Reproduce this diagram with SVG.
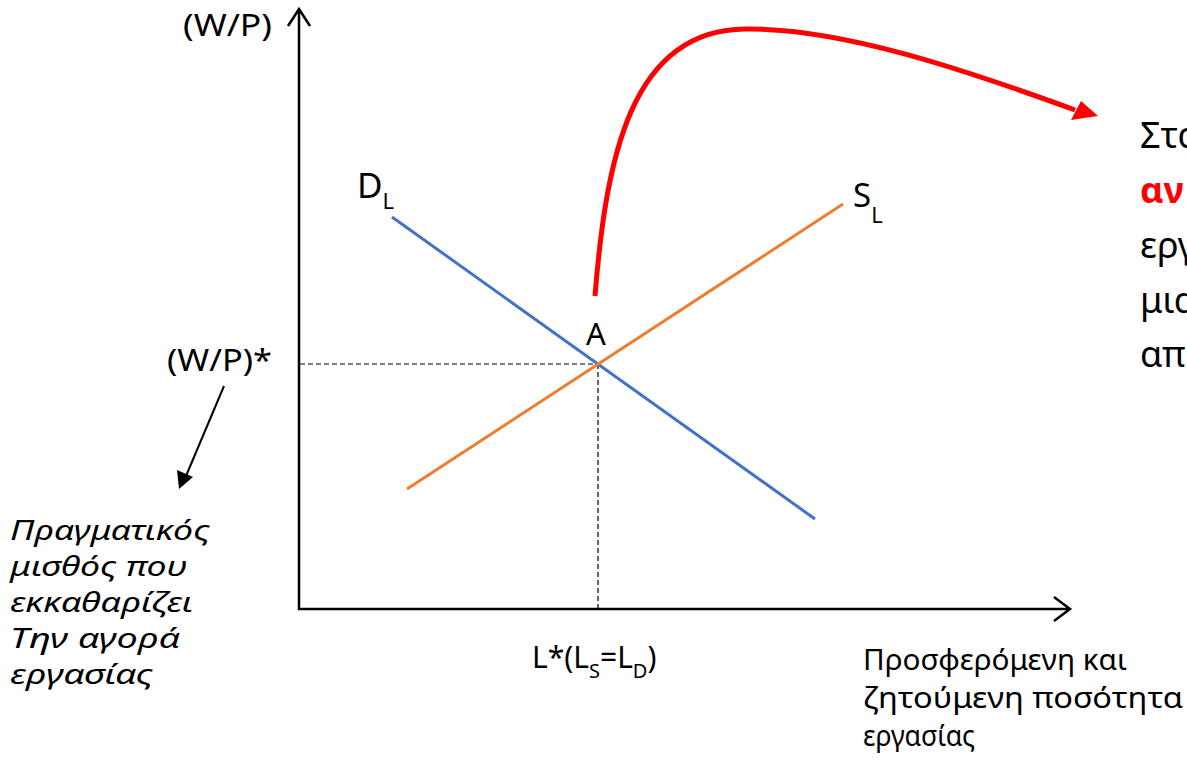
<svg xmlns="http://www.w3.org/2000/svg" width="1187" height="764" viewBox="0 0 1187 764">
<style>
text{font-family:"Noto Sans","Open Sans","DejaVu Sans",sans-serif;fill:#000}
.lbl{font-size:30px}
.xl{font-size:29px}
.it{font-size:28px;font-style:italic}
.rt{font-size:36px}
.axis{stroke:#000;stroke-width:2.5;fill:none}
.dash{stroke:#000;stroke-width:1.2;stroke-dasharray:5 3;fill:none}
</style>
<rect width="1187" height="764" fill="#fff"/>
<g id="axes">
<path class="axis" d="M299,610 V10 M288,26 L299,9 L310,26"/>
<path class="axis" d="M298,609 H1069 M1054,597 L1070,609 L1054,621"/>
</g>
<g id="connectors">
<path class="dash" d="M300,364 H597 M598,364 V608"/>
<path d="M224,386 L186,476" stroke="#000" stroke-width="2" fill="none"/>
<path d="M179,489 L177,470 L193,477 z" fill="#000"/>
<path d="M595,296 C606,160 630,30 745,29 C840,28 960,68 1075,110" stroke="#ff0000" stroke-width="5" fill="none"/>
<path d="M1098,116 L1071,120 L1081,101 z" fill="#ff0000"/>
</g>
<g id="DL">
<line x1="392" y1="217" x2="815" y2="519" stroke="#4472C4" stroke-width="3"/>
<text x="357" y="198" font-size="35">D<tspan font-size="22" dy="11">L</tspan></text>
</g>
<g id="SL">
<line x1="407" y1="489" x2="843" y2="204" stroke="#ED7D31" stroke-width="3"/>
<text x="853" y="207" font-size="33">S<tspan font-size="22" dy="16">L</tspan></text>
</g>
<g id="A"><text x="586" y="345" font-size="31">A</text></g>
<g id="ylabel"><text class="lbl" x="183" y="36" textLength="89" lengthAdjust="spacingAndGlyphs">(W/P)</text></g>
<g id="wstar"><text class="lbl" x="167" y="371" textLength="105" lengthAdjust="spacingAndGlyphs">(W/P)*</text></g>
<g id="lstar"><text class="lbl" x="532" y="668">L*(L<tspan font-size="20" dy="10">S</tspan><tspan dy="-10">=L</tspan><tspan font-size="20" dy="10">D</tspan><tspan dy="-10">)</tspan></text></g>
<g id="note-left">
<text class="it" x="10" y="540" textLength="200" lengthAdjust="spacingAndGlyphs">Πραγματικός</text>
<text class="it" x="10" y="576" textLength="177" lengthAdjust="spacingAndGlyphs">μισθός που</text>
<text class="it" x="10" y="612" textLength="183" lengthAdjust="spacingAndGlyphs">εκκαθαρίζει</text>
<text class="it" x="10" y="648" textLength="170" lengthAdjust="spacingAndGlyphs">Την αγορά</text>
<text class="it" x="10" y="684" textLength="143" lengthAdjust="spacingAndGlyphs">εργασίας</text>
</g>
<g id="xlabel">
<text class="xl" x="863" y="670" textLength="264" lengthAdjust="spacingAndGlyphs">Προσφερόμενη και</text>
<text class="xl" x="863" y="708" textLength="320" lengthAdjust="spacingAndGlyphs">ζητούμενη ποσότητα</text>
<text class="xl" x="863" y="746" textLength="112" lengthAdjust="spacingAndGlyphs">εργασίας</text>
</g>
<g id="note-right">
<text class="rt" x="1140" y="148">Στα</text>
<text class="rt" x="1140" y="203" font-weight="bold" style="fill:#ff0000">αν</text>
<text class="rt" x="1140" y="258">εργ</text>
<text class="rt" x="1140" y="313">μια</text>
<text class="rt" x="1140" y="367">απ</text>
</g>
</svg>
